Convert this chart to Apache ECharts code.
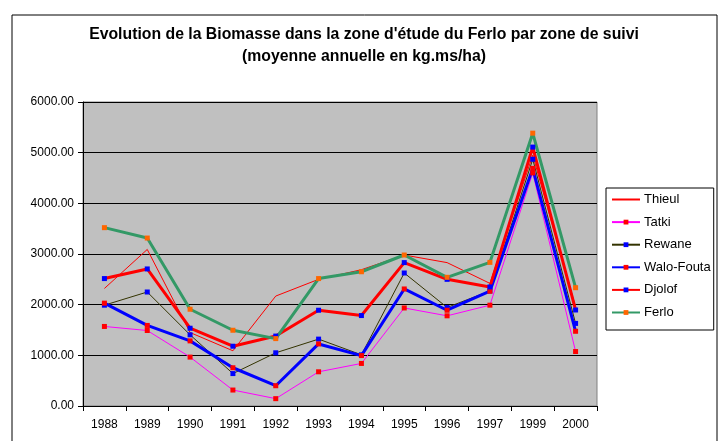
<!DOCTYPE html>
<html>
<head>
<meta charset="utf-8">
<script src="https://cdn.jsdelivr.net/npm/echarts@6/dist/echarts.min.js"></script>
<style>html,body{margin:0;padding:0;background:#fff}#c{width:728px;height:441px}</style>
</head>
<body>
<div id="c"></div>
<script>
var years = ['1988','1989','1990','1991','1992','1993','1994','1995','1996','1997','1999','2000'];
var thieul    = [2320, 3090, 1450, 1090, 2170, 2500, 2690, 2980, 2830, 2420, 4950, 1950];
var tatki     = [1570, 1490, 965, 315, 145, 675, 840, 1935, 1780, 1990, 4600, 1075];
var rewane    = [1990, 2250, 1405, 640, 1050, 1320, 1010, 2625, 1945, 2270, 4870, 1630];
var waloFouta = [2030, 1590, 1285, 755, 400, 1225, 995, 2310, 1890, 2265, 4690, 1475];
var djolof    = [2515, 2705, 1535, 1180, 1380, 1890, 1785, 2830, 2500, 2350, 5110, 1895];
var ferlo     = [3520, 3315, 1910, 1495, 1330, 2515, 2650, 2980, 2540, 2835, 5385, 2335];
var yTicks = [0, 1000, 2000, 3000, 4000, 5000, 6000];

var font = 'Arial, "Liberation Sans", sans-serif';
function mk(name, data, lineColor, width, markColor) {
  return {
    name: name, type: 'line', data: data,
    symbol: 'rect', symbolSize: 5,
    showSymbol: !!markColor,
    lineStyle: {color: lineColor, width: width},
    itemStyle: {color: markColor || lineColor},
    emphasis: {disabled: true}
  };
}
var chart = echarts.init(document.getElementById('c'), null, {renderer: 'canvas'});
chart.setOption({
  animation: false,
  backgroundColor: '#fff',
  title: {
    text: "Evolution de la Biomasse dans la zone d'étude du Ferlo par zone de suivi\n(moyenne annuelle en kg.ms/ha)",
    left: 'center', top: 19,
    textStyle: {fontFamily: font, fontSize: 15.8, fontWeight: 'bold', color: '#000', lineHeight: 22}
  },
  graphic: [{
    type: 'rect', shape: {x: 12, y: 15, width: 705, height: 500},
    style: {fill: 'none', stroke: '#000', lineWidth: 1}, z: -10
  }],
  legend: {
    orient: 'vertical', left: 606, top: 188,
    padding: [5, 3, 11, 5],
    borderColor: '#000', borderWidth: 1, backgroundColor: '#fff',
    itemWidth: 28, itemHeight: 6, itemGap: 9.6,
    textStyle: {fontFamily: font, fontSize: 13, color: '#000', padding: [0, 0, 0, -1]},
    data: [
      {name: 'Thieul', itemStyle: {opacity: 0}},
      'Tatki', 'Rewane', 'Walo-Fouta', 'Djolof', 'Ferlo'
    ]
  },
  grid: {
    left: 83, right: 131, top: 102, bottom: 35,
    show: true, backgroundColor: '#C0C0C0', borderColor: '#808080', borderWidth: 1
  },
  xAxis: {
    type: 'category', data: years, boundaryGap: true,
    axisLine: {lineStyle: {color: '#000', width: 1}},
    axisTick: {show: true, length: 5, lineStyle: {color: '#000'}},
    axisLabel: {fontFamily: font, fontSize: 12, color: '#000', margin: 13}
  },
  yAxis: {
    type: 'value', min: yTicks[0], max: yTicks[yTicks.length-1], interval: 1000,
    axisLine: {show: true, lineStyle: {color: '#000', width: 1}},
    axisTick: {show: true, length: 5, lineStyle: {color: '#000'}},
    axisLabel: {fontFamily: font, fontSize: 12, color: '#000', margin: 9,
      formatter: function (v) { return v.toFixed(2); }},
    splitLine: {show: true, lineStyle: {color: '#000', width: 1}}
  },
  series: [
    mk('Thieul', thieul, '#FF0000', 1, null),
    mk('Tatki', tatki, '#FF00FF', 1, '#FF0000'),
    mk('Rewane', rewane, '#333300', 1, '#0000FF'),
    mk('Walo-Fouta', waloFouta, '#0000FF', 3, '#FF0000'),
    mk('Djolof', djolof, '#FF0000', 3, '#0000FF'),
    mk('Ferlo', ferlo, '#339966', 3, '#FF6600')
  ]
});
</script>
</body>
</html>
